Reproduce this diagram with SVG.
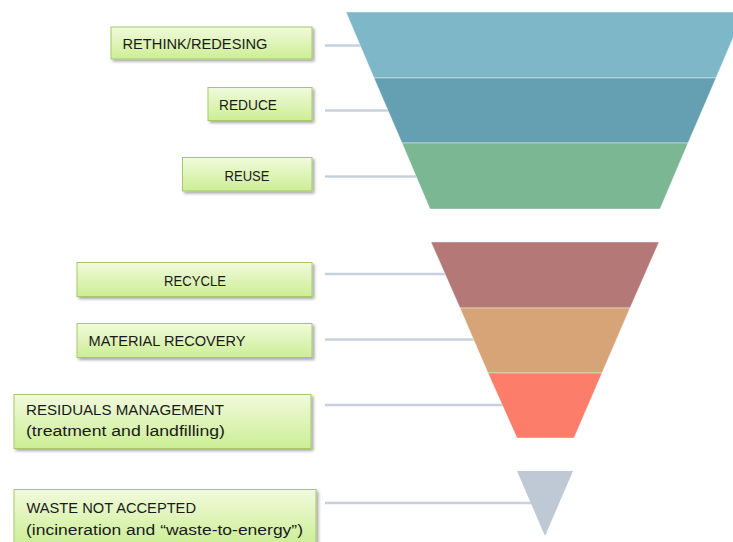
<svg xmlns="http://www.w3.org/2000/svg" width="733" height="542" viewBox="0 0 733 542">
<style>
.box{fill:url(#g);stroke:#A5C96A;stroke-width:1;filter:url(#sh)}
.t{font-family:"Liberation Sans",Arial,sans-serif;font-size:15.5px;fill:#1A1A1A}
.c{stroke:#C7D1DD;stroke-width:2.5;fill:none}
</style>
<defs>
<linearGradient id="g" x1="0" y1="0" x2="0" y2="1">
<stop offset="0" stop-color="#F1FADC"/>
<stop offset="1" stop-color="#CCEE95"/>
</linearGradient>
<filter id="sh" x="-10%" y="-20%" width="120%" height="150%">
<feGaussianBlur in="SourceAlpha" stdDeviation="1.5"/>
<feOffset dx="1.5" dy="2" result="o"/>
<feComponentTransfer><feFuncA type="linear" slope="0.35"/></feComponentTransfer>
<feMerge><feMergeNode/><feMergeNode in="SourceGraphic"/></feMerge>
</filter>
</defs>
<rect width="733" height="542" fill="#FFFFFF"/>
<g id="connectors">
<line class="c" x1="325" y1="45.5" x2="420" y2="45.5"/>
<line class="c" x1="325" y1="110.5" x2="420" y2="110.5"/>
<line class="c" x1="325" y1="176.5" x2="440" y2="176.5"/>
<line class="c" x1="325" y1="274" x2="470" y2="274"/>
<line class="c" x1="325" y1="339.5" x2="490" y2="339.5"/>
<line class="c" x1="325" y1="405" x2="520" y2="405"/>
<line class="c" x1="325" y1="503" x2="545" y2="503"/>
</g>
<g id="funnel-top" stroke="#FFFFFF" stroke-opacity="0.5" stroke-width="0.8">
<polygon points="346,12 744,12 716,78 374,78" fill="#7EB8C8"/>
<polygon points="374,78 716,78 688,143 402,143" fill="#64A0B2"/>
<polygon points="402,143 688,143 660,209 430,209" fill="#7BB792"/>
</g>
<g id="funnel-bottom" stroke="#FFFFFF" stroke-opacity="0.5" stroke-width="0.8">
<polygon points="431,242 659,242 630,308 460,308" fill="#B47876"/>
<polygon points="460,308 630,308 602,373 488,373" fill="#D6A477"/>
<polygon points="488,373 602,373 574,438 517,438" fill="#FC7D69"/>
</g>
<g id="funnel-tip">
<polygon points="517,471 573,471 545,536" fill="#BFC9D5"/>
</g>
<g id="n-rethink">
<rect class="box" x="111" y="27" width="201" height="32"/>
<text class="t" x="122.5" y="48.5" textLength="145" lengthAdjust="spacingAndGlyphs">RETHINK/REDESING</text>
</g>
<g id="n-reduce">
<rect class="box" x="208" y="87.5" width="104" height="33"/>
<text class="t" x="219" y="109.5" textLength="58" lengthAdjust="spacingAndGlyphs">REDUCE</text>
</g>
<g id="n-reuse">
<rect class="box" x="182.5" y="157.5" width="129.5" height="33.5"/>
<text class="t" x="224.5" y="180.5" textLength="45" lengthAdjust="spacingAndGlyphs">REUSE</text>
</g>
<g id="n-recycle">
<rect class="box" x="77" y="262.5" width="235" height="34"/>
<text class="t" x="164" y="285.5" textLength="62" lengthAdjust="spacingAndGlyphs">RECYCLE</text>
</g>
<g id="n-material">
<rect class="box" x="77" y="323.5" width="235" height="34"/>
<text class="t" x="88.5" y="346" textLength="157" lengthAdjust="spacingAndGlyphs">MATERIAL RECOVERY</text>
</g>
<g id="n-residuals">
<rect class="box" x="14" y="394.5" width="297" height="54"/>
<text class="t" x="26" y="415" textLength="198" lengthAdjust="spacingAndGlyphs">RESIDUALS MANAGEMENT</text>
<text class="t" x="26" y="435.5" textLength="199" lengthAdjust="spacingAndGlyphs">(treatment and landfilling)</text>
</g>
<g id="n-waste">
<rect class="box" x="14" y="489.5" width="302" height="56"/>
<text class="t" x="26.5" y="513" textLength="169.5" lengthAdjust="spacingAndGlyphs">WASTE NOT ACCEPTED</text>
<text class="t" x="26" y="534.5" textLength="277" lengthAdjust="spacingAndGlyphs">(incineration and “waste-to-energy”)</text>
</g>
</svg>
